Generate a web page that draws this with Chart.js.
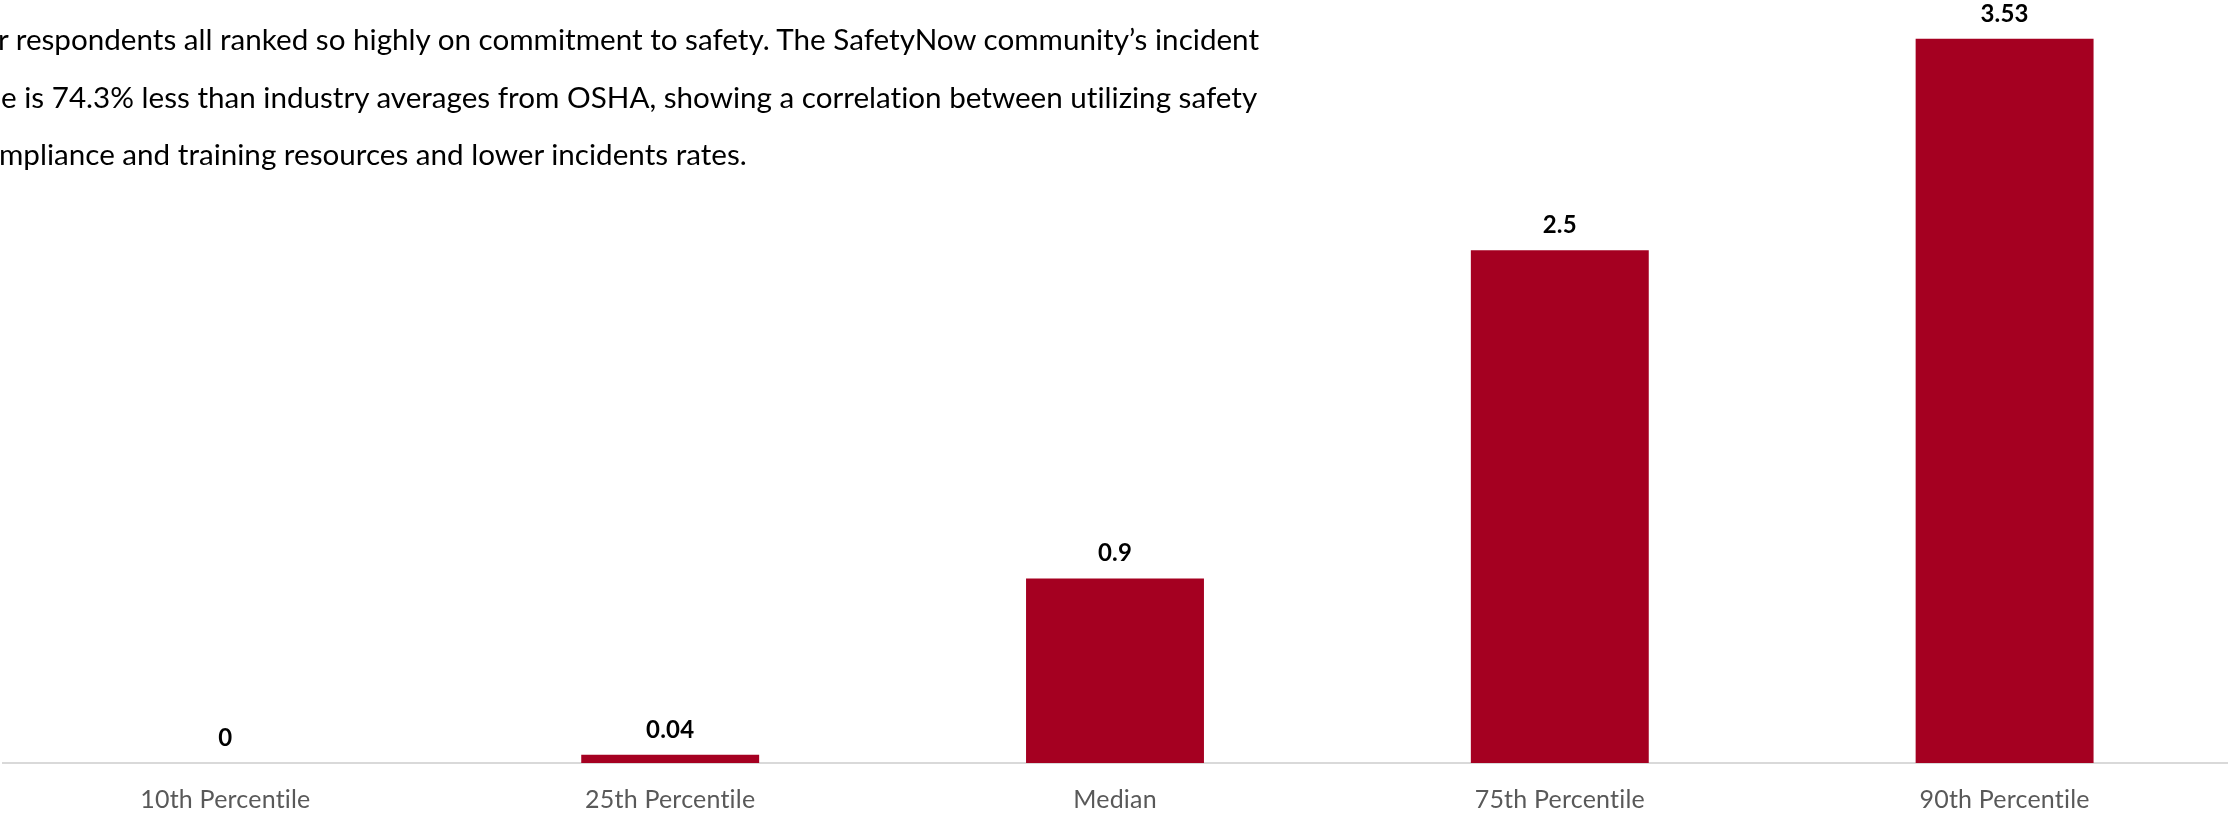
<!DOCTYPE html>
<html>
<head>
<meta charset="utf-8">
<script src="https://cdn.jsdelivr.net/npm/chart.js@4.4.1/dist/chart.umd.min.js"></script>
<style>
  html, body { margin:0; padding:0; background:#fff; width:2229px; height:813px; overflow:hidden; }
  #wrap { position:absolute; left:0; top:0; width:2229px; height:837px; }
  .note { position:absolute; left:0; font-family:Lato, "Open Sans", sans-serif; color:#000; white-space:nowrap; line-height:1; font-variant-ligatures:none; font-feature-settings:"liga" 0, "dlig" 0; }
</style>
</head>
<body>
<div id="wrap"><canvas id="c" width="2229" height="837"></canvas></div>
<div class="note" id="l1">r respondents all ranked so highly on commitment to safety. The SafetyNow community’s incident</div>
<div class="note" id="l2">e is 74.3% less than industry averages from OSHA, showing a correlation between utilizing safety</div>
<div class="note" id="l3">mpliance and training resources and lower incidents rates.</div>
<script>
// ---- data ----
const categories = ['10th Percentile', '25th Percentile', 'Median', '75th Percentile', '90th Percentile'];
const incidentRates = [0, 0.04, 0.9, 2.5, 3.53];
const valueLabels = ['0', '0.04', '0.9', '2.5', '3.53'];

// ---- note text fitting (layout only) ----
(function () {
  const m = document.createElement('canvas').getContext('2d');
  m.font = '100px Lato';
  const w1 = m.measureText(document.getElementById('l1').textContent).width;
  const size = 100 * 1264 / w1;
  const lefts = [-2, 1, -1];
  const baselines = [50, 108, 165];
  ['l1', 'l2', 'l3'].forEach((id, i) => {
    const el = document.getElementById(id);
    el.style.fontSize = size + 'px';
    el.style.left = lefts[i] + 'px';
    el.style.top = (baselines[i] - 0.887 * size) + 'px';
  });
})();

const noLigaturePlugin = {
  id: 'noLigatures',
  beforeDraw(chart) {
    const ctx = chart.ctx;
    if ('letterSpacing' in ctx) ctx.letterSpacing = '0.2px';
    if ('fontVariantLigatures' in ctx) ctx.fontVariantLigatures = 'none';
  }
};

const valueLabelPlugin = {
  id: 'valueLabels',
  afterDatasetsDraw(chart) {
    const ctx = chart.ctx;
    const meta = chart.getDatasetMeta(0);
    ctx.save();
    ctx.font = 'bold 24px Lato';
    ctx.fillStyle = '#000';
    ctx.textAlign = 'center';
    ctx.textBaseline = 'middle';
    meta.data.forEach((bar, i) => {
      ctx.fillText(valueLabels[i], bar.x, bar.y - 25);
    });
    ctx.restore();
  }
};

new Chart(document.getElementById('c'), {
  type: 'bar',
  data: {
    labels: categories,
    datasets: [{
      data: incidentRates,
      backgroundColor: '#A50021',
      borderWidth: 0,
      barPercentage: 0.4,
      categoryPercentage: 1.0
    }]
  },
  options: {
    responsive: false,
    animation: false,
    layout: { padding: { top: 4, left: 3, right: 2, bottom: 0 } },
    plugins: { legend: { display: false }, tooltip: { enabled: false } },
    scales: {
      x: {
        grid: { display: true, drawOnChartArea: false, drawTicks: false },
        border: { display: true, color: '#d9d9d9', width: 2 },
        ticks: { color: '#595959', font: { family: 'Lato', size: 25 }, padding: 22 }
      },
      y: { display: false, min: 0, max: 3.7 }
    }
  },
  plugins: [noLigaturePlugin, valueLabelPlugin]
});
</script>
</body>
</html>
